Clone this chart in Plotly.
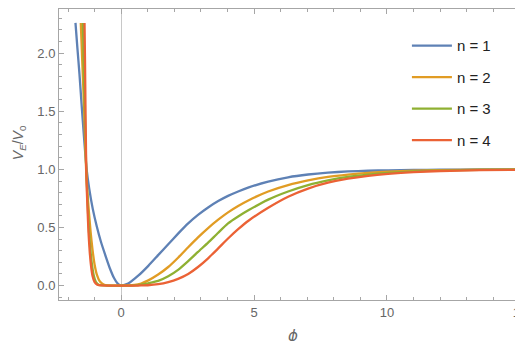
import plotly.graph_objects as go

# values
phi_n1 = [-1.72, -1.65, -1.57, -1.49, -1.40, -1.30, -1.20, -1.07, -0.92, -0.76, -0.58, -0.42, -0.27,
          -0.13, 0.0, 0.26, 0.64, 1.02, 1.39, 1.77, 2.14, 2.52, 2.89, 3.27, 3.65, 4.02, 4.4, 4.8,
          5.53, 6.28, 7.03, 7.78, 8.53, 9.29, 10.04, 11.0, 12.0, 13.5, 15.0]
v_n1 = [2.26, 2.05, 1.82, 1.56, 1.28, 1.0, 0.83, 0.66, 0.51, 0.375, 0.25, 0.145, 0.065,
        0.017, 0.0, 0.018, 0.085, 0.17, 0.262, 0.356, 0.447, 0.535, 0.608, 0.672, 0.727, 0.772, 0.81, 0.845,
        0.895, 0.932, 0.956, 0.972, 0.982, 0.988, 0.992, 0.995, 0.997, 0.999, 1.0]

phi_n2 = [-1.52, -1.46, -1.40, -1.36, -1.32, -1.27, -1.21, -1.15, -1.08, -1.00, -0.91, -0.80, -0.66,
          -0.5, -0.25, 0.0, 0.25, 0.5, 0.75, 1.02, 1.39, 1.77, 2.14, 2.52, 2.89, 3.27, 3.65, 4.02,
          4.4, 4.8, 5.53, 6.28, 7.03, 7.78, 8.53, 9.29, 10.04, 11.0, 12.0, 13.5, 15.0]
v_n2 = [2.26, 1.9, 1.557, 1.27, 1.0, 0.80, 0.62, 0.46, 0.31, 0.18, 0.09, 0.035, 0.01,
        0.002, 0.0, 0.0, 0.001, 0.005, 0.018, 0.045, 0.095, 0.16, 0.24, 0.33, 0.415, 0.495, 0.567, 0.63,
        0.685, 0.735, 0.81, 0.865, 0.905, 0.935, 0.955, 0.97, 0.98, 0.988, 0.993, 0.997, 0.999]

phi_n3 = [-1.44, -1.41, -1.375, -1.345, -1.315, -1.28, -1.245, -1.21, -1.16, -1.10, -1.03, -0.95,
          -0.85, -0.7, -0.5, -0.25, 0.0, 0.25, 0.5, 0.75, 1.02, 1.39, 1.77, 2.14, 2.52, 2.89, 3.27,
          3.65, 4.02, 4.4, 4.8, 5.53, 6.28, 7.03, 7.78, 8.53, 9.29, 10.04, 11.0, 12.0, 13.5, 15.0]
v_n3 = [2.26, 1.9, 1.557, 1.27, 1.0, 0.80, 0.62, 0.46, 0.31, 0.18, 0.085, 0.03,
        0.008, 0.001, 0.0, 0.0, 0.0, 0.0, 0.002, 0.008, 0.02, 0.04, 0.08, 0.135, 0.21, 0.29, 0.37,
        0.455, 0.535, 0.595, 0.65, 0.74, 0.81, 0.865, 0.905, 0.935, 0.955, 0.97, 0.982, 0.99, 0.995, 0.998]

phi_n4 = [-1.38, -1.36, -1.345, -1.33, -1.315, -1.29, -1.26, -1.23, -1.19, -1.14, -1.08, -1.00,
          -0.9, -0.75, -0.5, -0.25, 0.0, 0.25, 0.5, 0.75, 1.0, 1.39, 1.77, 2.14, 2.52, 2.89, 3.27,
          3.65, 4.02, 4.4, 4.8, 5.53, 6.28, 7.03, 7.78, 8.53, 9.29, 10.04, 11.0, 12.0, 13.5, 15.0]
v_n4 = [2.26, 1.9, 1.557, 1.27, 1.0, 0.80, 0.62, 0.46, 0.31, 0.18, 0.085, 0.03,
        0.008, 0.001, 0.0, 0.0, 0.0, 0.0, 0.0, 0.001, 0.003, 0.012, 0.03, 0.058, 0.10, 0.16, 0.235,
        0.32, 0.405, 0.485, 0.56, 0.67, 0.765, 0.835, 0.885, 0.92, 0.945, 0.962, 0.977, 0.986, 0.993, 0.997]

names = ['n = 1', 'n = 2', 'n = 3', 'n = 4']
colors = ['#5E81B5', '#E19C24', '#8FB032', '#EB6235']

fig = go.Figure()

for i, (xs, ys) in enumerate([(phi_n1, v_n1), (phi_n2, v_n2), (phi_n3, v_n3), (phi_n4, v_n4)]):
    fig.add_trace(
        go.Scatter(
            name = names[i],
            x = xs,
            y = ys,
            mode = 'lines',
            line = dict(color=colors[i], width=2.3, shape='spline', smoothing=0.5),
            legendgroup = names[i],
        )
    )

axis_common = dict(
    showline=True,
    linecolor='#a6a6a6',
    linewidth=1,
    mirror='ticks',
    ticks='inside',
    ticklen=5,
    tickcolor='#a6a6a6',
    showgrid=False,
    automargin=False,
    tickfont=dict(family='Liberation Sans, Arial', size=13, color='#666666'),
)

fig.update_xaxes(
    range=[-2.34, 15.23],
    tick0=0, dtick=5,
    minor=dict(dtick=1, ticks='inside', ticklen=3, tickcolor='#a6a6a6', showgrid=False),
    zeroline=True, zerolinecolor='#c8c8c8', zerolinewidth=1.2,
    **axis_common
)

fig.update_yaxes(
    range=[-0.124, 2.38],
    tick0=0, dtick=0.5, tickformat='.1f',
    minor=dict(dtick=0.1, ticks='inside', ticklen=3, tickcolor='#a6a6a6', showgrid=False),
    zeroline=False,
    **axis_common
)

# axis titles as annotations so they sit where the reference has them
fig.add_annotation(text='<i>ϕ</i>', xref='paper', yref='paper', x=0.5, y=-0.125,
                   xanchor='center', yanchor='middle', showarrow=False,
                   font=dict(family='DejaVu Sans', size=15, color='#666666'))
fig.add_annotation(text='<i>V</i><sub><i>E</i></sub>/<i>V</i><sub>0</sub>', xref='paper', yref='paper',
                   x=-0.085, y=0.54, xanchor='center', yanchor='middle', textangle=-90, showarrow=False,
                   font=dict(family='Liberation Sans, Arial', size=14, color='#666666'))

fig.update_layout(
    width=523, height=341,
    margin=dict(l=51, r=5, t=1, b=49),
    template='plotly_white',
    plot_bgcolor='white',
    paper_bgcolor='white',
    showlegend=True,
    legend=dict(x=0.745, y=0.93, xanchor='left', yanchor='top', itemwidth=40,
                font=dict(family='Liberation Sans, Arial', size=15, color='#222222'),
                tracegroupgap=9, bgcolor='rgba(0,0,0,0)'),
)

fig.write_html("out.html")
